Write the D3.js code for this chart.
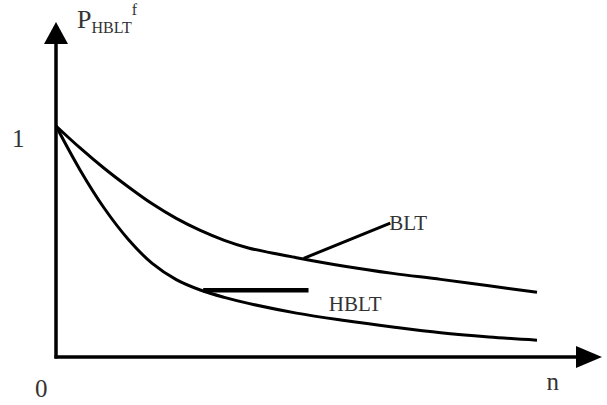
<!DOCTYPE html>
<html>
<head>
<meta charset="utf-8">
<script src="https://cdn.jsdelivr.net/npm/d3@7"></script>
<style>
  body { margin: 0; background: #fff; }
</style>
</head>
<body>
<svg id="chart"></svg>
<script>
// n values and probability
const nValues = [0, 0.5, 1, 1.5, 2, 2.5, 3, 3.5, 4, 5, 6, 7, 8, 9, 10];
const bltValues = [1, 0.905, 0.817, 0.737, 0.663, 0.6, 0.548, 0.505, 0.472, 0.43, 0.393, 0.362, 0.336, 0.308, 0.28];
const hbltValues = [1, 0.81, 0.645, 0.51, 0.405, 0.335, 0.29, 0.258, 0.232, 0.19, 0.158, 0.13, 0.105, 0.087, 0.073];

// leader lines in data units: [start, end]
const bltLeader = [[5.15, 0.427], [6.95, 0.58]];
const hbltLeader = [[3.06, 0.289], [5.25, 0.289]];

const width = 607, height = 405;
const serif = '"Liberation Serif", "Times New Roman", "DejaVu Serif", serif';

const svg = d3.select('#chart')
  .attr('width', width)
  .attr('height', height);

// n=0 at left axis, n=10 where the curves stop
const xScale = d3.scaleLinear().domain([0, 10]).range([56, 537]);
const yScale = d3.scaleLinear().domain([0, 1]).range([357, 126]);

const xTip = 602, yTip = 22;

// axes with arrow heads
svg.append('line')
  .attr('x1', xScale(0) - 1.5).attr('y1', yScale(0))
  .attr('x2', xTip - 20).attr('y2', yScale(0))
  .attr('stroke', '#000').attr('stroke-width', 3.5);
svg.append('line')
  .attr('x1', xScale(0)).attr('y1', yScale(0) + 1.5)
  .attr('x2', xScale(0)).attr('y2', yTip + 18)
  .attr('stroke', '#000').attr('stroke-width', 3.5);

svg.append('path')
  .attr('d', `M${xTip},${yScale(0)} L${xTip - 26},${yScale(0) - 11} L${xTip - 26},${yScale(0) + 11} Z`)
  .attr('fill', '#000');
svg.append('path')
  .attr('d', `M${xScale(0)},${yTip} L${xScale(0) - 12},${yTip + 22} L${xScale(0) + 12},${yTip + 22} Z`)
  .attr('fill', '#000');

// curves
const line = d3.line()
  .x((d, i) => xScale(nValues[i]))
  .y(d => yScale(d))
  .curve(d3.curveCatmullRom.alpha(0.5));

[bltValues, hbltValues].forEach(vals => {
  svg.append('path')
    .datum(vals)
    .attr('d', line)
    .attr('fill', 'none')
    .attr('stroke', '#000')
    .attr('stroke-width', 3);
});

// leader lines
svg.append('line')
  .attr('x1', xScale(bltLeader[0][0])).attr('y1', yScale(bltLeader[0][1]))
  .attr('x2', xScale(bltLeader[1][0])).attr('y2', yScale(bltLeader[1][1]))
  .attr('stroke', '#000').attr('stroke-width', 3);
svg.append('line')
  .attr('x1', xScale(hbltLeader[0][0])).attr('y1', yScale(hbltLeader[0][1]))
  .attr('x2', xScale(hbltLeader[1][0])).attr('y2', yScale(hbltLeader[1][1]))
  .attr('stroke', '#000').attr('stroke-width', 4.5);

// labels
const label = (x, y, size, txt) => svg.append('text')
  .attr('x', x).attr('y', y)
  .attr('font-family', serif)
  .attr('font-size', size)
  .attr('fill', '#333')
  .text(txt);

label(xScale(bltLeader[1][0]) - 1, yScale(bltLeader[1][1]) + 7, 21, 'BLT');
label(xScale(5.67), yScale(0.2), 21, 'HBLT');
label(xScale(0) - 44, yScale(1) + 21, 25, '1');
label(xScale(0) - 21, yScale(0) + 40, 25, '0');
label(xScale(10.2), yScale(0) + 33, 25, 'n');

// axis title P_HBLT^f
const title = svg.append('text')
  .attr('x', 77).attr('y', 28)
  .attr('font-family', serif)
  .attr('fill', '#333')
  .attr('font-size', 26);
title.append('tspan').text('P');
title.append('tspan').attr('dy', 5).attr('font-size', 16).text('HBLT');
title.append('tspan').attr('dy', -18).attr('font-size', 16).text('f');
</script>
</body>
</html>
